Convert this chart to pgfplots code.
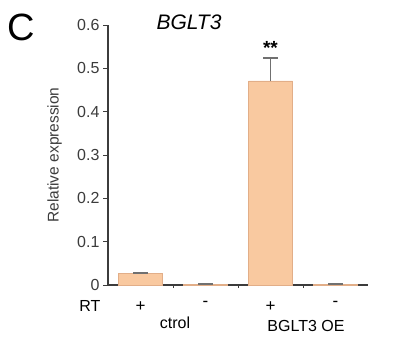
\documentclass[border=0pt]{standalone}
\usepackage{pgfplots}
\pgfplotsset{compat=1.18}
\usepackage{fontspec}
\setmainfont{Liberation Sans}
\definecolor{barfill}{HTML}{F9C9A0}
\definecolor{baredge}{HTML}{E2AE88}
\definecolor{tickgray}{HTML}{3C3C3C}
\definecolor{errgray}{HTML}{707070}
\begin{document}
\begin{tikzpicture}[x=1pt,y=1pt]
\useasboundingbox (0pt,0pt) rectangle (404pt,338pt);
\begin{axis}[
  at={(108pt,53pt)}, anchor=south west,
  scale only axis, width=260pt, height=260pt,
  xmin=-0.5, xmax=3.5, ymin=0, ymax=0.6,
  axis x line*=bottom, axis y line*=left,
  axis line style={tickgray, line width=1.1pt},
  ytick={0,0.1,0.2,0.3,0.4,0.5,0.6},
  /pgf/number format/fixed, /pgf/number format/precision=1,
  /pgf/number format/assume math mode=true,
  yticklabel style={font=\fontsize{16}{18}\selectfont, text=tickgray},
  xtick={0,1,2,3}, xticklabels={+,-,+,-},
  xticklabel style={font=\fontsize{17}{19}\selectfont, text=black, yshift=-8pt},
  major x tick style={draw=none},
  minor xtick={0.5,1.5,2.5},
  minor tick length=3pt,
  tick align=outside, major tick length=5pt,
  tick style={tickgray, line width=1pt},
  ylabel={Relative expression},
  ylabel style={font=\fontsize{15.5}{17}\selectfont, text=tickgray, at={(axis description cs:-0.205,0.5)}, anchor=center},
  clip=false,
]
\addplot[ybar, bar width=44pt, fill=barfill, draw=baredge,
  error bars/.cd, y dir=plus, y explicit,
  error bar style={errgray, line width=1.3pt},
  error mark options={rotate=90, mark size=7.5pt, errgray, line width=1.3pt}]
  coordinates {(0,0.027) +- (0,0.0006) (1,0.002) +- (0,0) (2,0.471) +- (0,0.053) (3,0.002) +- (0,0)};
\node[font=\fontsize{19}{21}\selectfont\bfseries, anchor=south] at (axis cs:2,0.524) {**};
\end{axis}
\node[font=\fontsize{16}{18}\selectfont] at (90pt,32pt) {RT};
\node[font=\fontsize{16}{18}\selectfont] at (175pt,15pt) {ctrol};
\node[font=\fontsize{16}{18}\selectfont] at (306pt,12pt) {BGLT3 OE};
\node[font=\fontsize{38}{40}\selectfont] at (21pt,311pt) {C};
\node[font=\fontsize{21}{23}\selectfont\itshape] at (189pt,315.5pt) {BGLT3};
\end{tikzpicture}
\end{document}
